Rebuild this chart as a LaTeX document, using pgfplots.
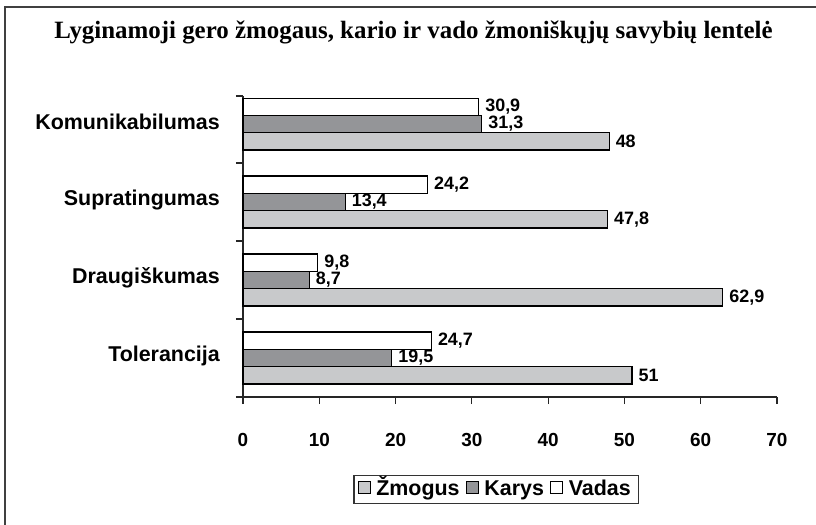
\documentclass[border=0pt]{standalone}
\usepackage{pgfplots}
\pgfplotsset{compat=1.18}
\usepackage{fontspec}
\setmainfont{Liberation Sans}
\newfontfamily\titlefont{Liberation Serif}
\definecolor{zm}{RGB}{200,201,203}
\definecolor{ka}{RGB}{148,149,152}
\begin{document}
\begin{tikzpicture}
\useasboundingbox (-243bp,-128bp) rectangle (573bp,397bp);
\draw[line width=1.5bp, black!75] (-238bp,-130bp) -- (-238bp,390bp) -- (575bp,390bp);
\node[anchor=base, font=\titlefont\bfseries\fontsize{25}{28}\selectfont] at (170.5bp,358bp) {Lyginamoji gero žmogaus, kario ir vado žmoniškųjų savybių lentelė};
\begin{axis}[
  at={(0bp,0bp)}, anchor=south west,
  width=534bp, height=301bp, scale only axis,
  xbar, bar width=0.222,
  xmin=0, xmax=70, ymin=-0.5, ymax=3.36,
  axis x line*=bottom, axis y line*=left,
  axis line style={line width=1.2bp, black!85, -},
  xtick={0,10,...,70}, minor xtick={0,10,...,70},
  ytick={0,1,2,3},
  yticklabels={Tolerancija,Draugiškumas,Supratingumas,Komunikabilumas},
  minor ytick={-0.5,0.5,1.5,2.5,3.36},
  major tick length=0pt, minor tick length=7bp, tick align=outside,
  tick style={line width=1.2bp, black!85},
  xticklabel style={font=\fontsize{19}{20}\selectfont\bfseries, /pgf/number format/assume math mode=true, inner sep=0pt, yshift=-36bp},
  yticklabel style={font=\fontsize{21.5}{24}\selectfont\bfseries, inner sep=0pt, xshift=-23bp, yshift=2bp},
  point meta=x,
  nodes near coords={\pgfmathprintnumber[use comma,assume math mode=true]{\pgfplotspointmeta}},
  every node near coord/.append style={font=\fontsize{18}{20}\selectfont\bfseries, inner sep=0pt, anchor=west, xshift=6bp},
  legend style={at={(0.474,-0.306)}, anchor=center, legend columns=-1, draw=black!80, line width=1.2bp,
    font=\fontsize{21.5}{24}\selectfont\bfseries, inner xsep=4bp, inner ysep=2bp,
    nodes={text height=16bp, text depth=4bp, inner xsep=1.5bp, inner ysep=2bp}},
  legend image code/.code={\draw[#1, line width=0.8bp] (0bp,-4bp) rectangle (12bp,8bp);},
  clip=false,
]
\addplot[fill=zm, draw=black, line width=1.2bp, bar shift=-0.222] coordinates {(51,0) (62.9,1) (47.8,2) (48,3)};
\addplot[fill=ka, draw=black, line width=1.2bp, bar shift=0] coordinates {(19.5,0) (8.7,1) (13.4,2) (31.3,3)};
\addplot[fill=white, draw=black, line width=1.2bp, bar shift=0.222] coordinates {(24.7,0) (9.8,1) (24.2,2) (30.9,3)};
\legend{\hspace{4bp}Žmogus\kern5bp\null,\hspace{4bp}Karys\kern5bp\null,\hspace{4bp}Vadas\kern2bp\null}
\end{axis}
\end{tikzpicture}
\end{document}
